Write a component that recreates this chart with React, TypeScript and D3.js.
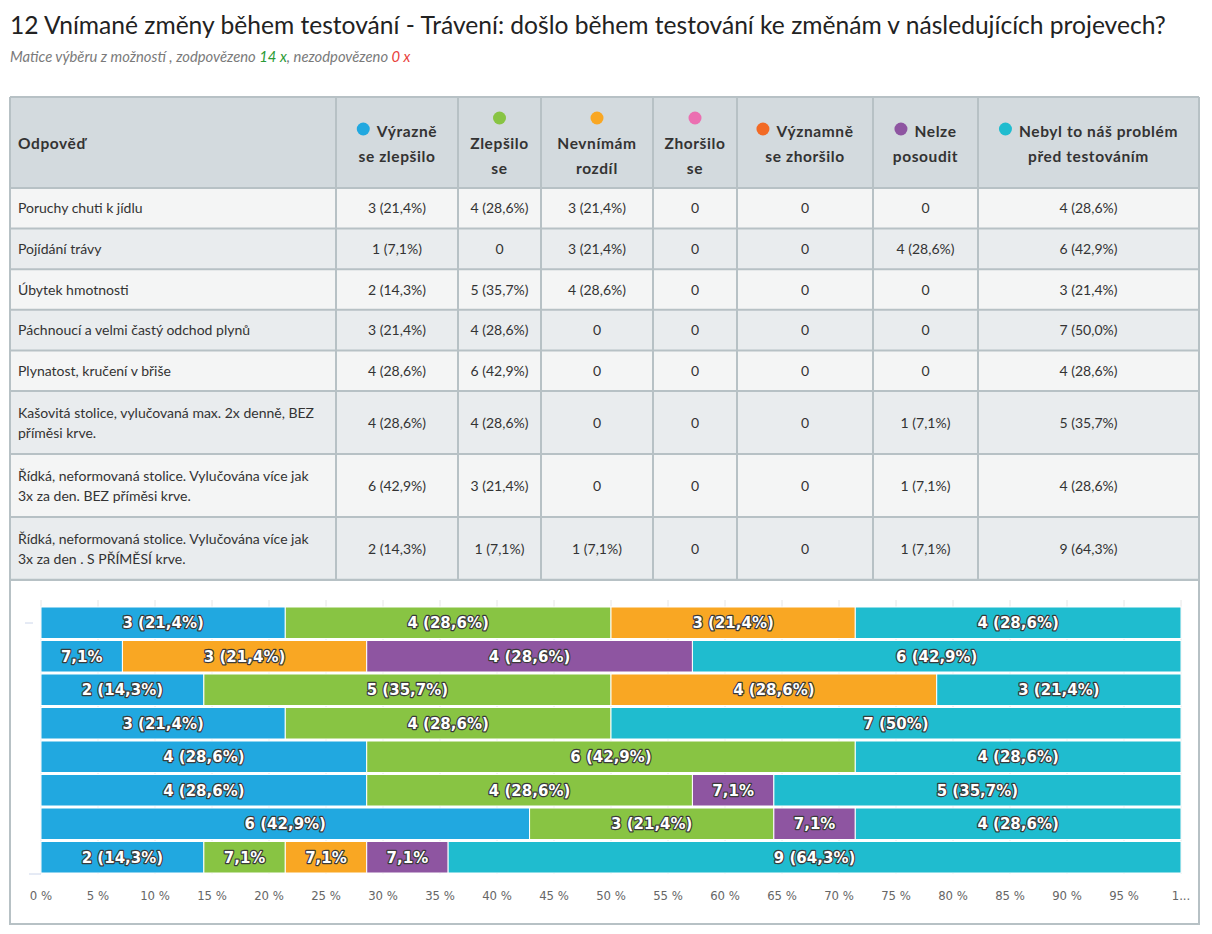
import React from "react";
import * as d3 from "d3";

const TOTAL = 14;

const rowLabels: string[][] = [
  ["Poruchy chuti k jídlu"],
  ["Pojídání trávy"],
  ["Úbytek hmotnosti"],
  ["Páchnoucí a velmi častý odchod plynů"],
  ["Plynatost, kručení v břiše"],
  ["Kašovitá stolice, vylučovaná max. 2x denně, BEZ", "příměsi krve."],
  ["Řídká, neformovaná stolice. Vylučována více jak", "3x za den. BEZ příměsi krve."],
  ["Řídká, neformovaná stolice. Vylučována více jak", "3x za den . S PŘÍMĚSÍ krve."],
];

const seriesNames: string[][] = [
  ["Výrazně", "se zlepšilo"],
  ["Zlepšilo", "se"],
  ["Nevnímám", "rozdíl"],
  ["Zhoršilo", "se"],
  ["Významně", "se zhoršilo"],
  ["Nelze", "posoudit"],
  ["Nebyl to náš problém", "před testováním"],
];

const dotStyle: string[] = ["inline", "above", "above", "above", "inline", "inline", "inline"];

const seriesColors = ["#21a8e0", "#88c443", "#f9a723", "#eb6fb1", "#f26a25", "#8e55a1", "#1fbccf"];

const vyrazneZlepsilo = [3, 1, 2, 3, 4, 4, 6, 2];
const zlepsilo = [4, 0, 5, 4, 6, 4, 3, 1];
const nevnimam = [3, 3, 4, 0, 0, 0, 0, 1];
const zhorsilo = [0, 0, 0, 0, 0, 0, 0, 0];
const vyznamneZhorsilo = [0, 0, 0, 0, 0, 0, 0, 0];
const nelzePosoudit = [0, 4, 0, 0, 0, 1, 1, 1];
const nebylProblem = [4, 6, 3, 7, 4, 5, 4, 9];

const seriesValues = [vyrazneZlepsilo, zlepsilo, nevnimam, zhorsilo, vyznamneZhorsilo, nelzePosoudit, nebylProblem];

const xTicks = [0, 5, 10, 15, 20, 25, 30, 35, 40, 45, 50, 55, 60, 65, 70, 75, 80, 85, 90, 95, 100];

const colEdges = [10, 336, 458, 541, 653, 737, 873, 978, 1199];
const headerTop = 97;
const headerBottom = 188;

const FONT = "Lato, 'Open Sans', sans-serif";
const BAR_FONT = "'DejaVu Sans', sans-serif";
const AXIS_FONT = "'DejaVu Sans Condensed', 'DejaVu Sans', sans-serif";
const HEAD_SIZE = 15.5;
const HEAD_LS = 0.6;

function pctTable(n: number) {
  return (Math.round((n / TOTAL) * 1000) / 10).toFixed(1).replace(".", ",") + "%";
}
function pctBar(n: number) {
  const v = Math.round((n / TOTAL) * 1000) / 10;
  const s = v % 1 === 0 ? v.toFixed(0) : v.toFixed(1).replace(".", ",");
  return s + "%";
}

let measureCtx: CanvasRenderingContext2D | null = null;
function measure(text: string): number {
  if (!measureCtx) {
    const c = document.createElement("canvas");
    measureCtx = c.getContext("2d");
  }
  if (!measureCtx) return text.length * 8;
  measureCtx.font = `700 ${HEAD_SIZE}px Lato, 'Open Sans', sans-serif`;
  return measureCtx.measureText(text).width + text.length * HEAD_LS;
}

export default function App() {
  const rowHeights = rowLabels.map((l) => (l.length > 1 ? 63 : 40.6));
  const rowTops: number[] = [];
  let acc = headerBottom;
  rowHeights.forEach((h) => {
    rowTops.push(acc);
    acc += h;
  });
  const tableBottom = acc;

  const x = d3.scaleLinear().domain([0, 100]).range([41, 1181]);
  const y = d3
    .scaleBand<number>()
    .domain(d3.range(rowLabels.length))
    .range([606, 874])
    .paddingInner(0);

  const border = "#b7c1c5";

  const segments: { row: number; s: number; x0: number; x1: number; n: number }[] = [];
  rowLabels.forEach((_, r) => {
    let cum = 0;
    seriesValues.forEach((vals, s) => {
      const n = vals[r];
      if (n > 0) {
        const p0 = (cum / TOTAL) * 100;
        const p1 = ((cum + n) / TOTAL) * 100;
        segments.push({ row: r, s, x0: x(p0), x1: x(p1), n });
      }
      cum += n;
    });
  });

  const headText = {
    fontSize: HEAD_SIZE,
    fontWeight: 700,
    fill: "#333",
    letterSpacing: HEAD_LS,
  } as const;

  return (
    <svg
      width={1212}
      height={934}
      style={{ position: "absolute", left: 0, top: 0, background: "#fff" }}
      fontFamily={FONT}
    >
      <text x={10} y={34} fontSize={24.6} fill="#222" fontFamily={FONT}>
        12 Vnímané změny během testování - Trávení: došlo během testování ke změnám v následujících projevech?
      </text>
      <text x={10} y={62} fontSize={14.8} fill="#7a7a7a" fontStyle="italic" fontFamily={FONT}>
        Matice výběru z možností , zodpovězeno <tspan fill="#2a9a36">14 x</tspan>, nezodpovězeno{" "}
        <tspan fill="#e8403a">0 x</tspan>
      </text>

      <rect x={10} y={headerTop} width={1189} height={headerBottom - headerTop} fill="#d3dade" />
      {rowTops.map((t, i) => (
        <rect key={"rb" + i} x={10} y={t} width={1189} height={rowHeights[i]} fill={i % 2 === 0 ? "#f4f5f5" : "#e9ecee"} />
      ))}

      <text x={18} y={149} {...headText}>
        Odpověď
      </text>
      {seriesNames.map((lines, s) => {
        const cx = (colEdges[s + 1] + colEdges[s + 2]) / 2;
        if (dotStyle[s] === "above") {
          return (
            <g key={"h" + s}>
              <circle cx={cx} cy={118} r={6.5} fill={seriesColors[s]} />
              <text x={cx} y={149} textAnchor="middle" {...headText}>
                {lines[0]}
              </text>
              <text x={cx} y={174} textAnchor="middle" {...headText}>
                {lines[1]}
              </text>
            </g>
          );
        }
        const tw = measure(lines[0]);
        const total = 13 + 7 + tw;
        const left = cx - total / 2;
        return (
          <g key={"h" + s}>
            <circle cx={left + 6.5} cy={129} r={6.5} fill={seriesColors[s]} />
            <text x={left + 20} y={137} {...headText}>
              {lines[0]}
            </text>
            <text x={cx} y={162} textAnchor="middle" {...headText}>
              {lines[1]}
            </text>
          </g>
        );
      })}

      {rowLabels.map((lines, r) => {
        const t = rowTops[r];
        const h = rowHeights[r];
        const cy = t + h / 2;
        return (
          <g key={"r" + r}>
            {lines.map((ln, li) => (
              <text
                key={li}
                x={18}
                y={cy + 5 + (li - (lines.length - 1) / 2) * 20}
                fontSize={14}
                fill="#333"
              >
                {ln}
              </text>
            ))}
            {seriesValues.map((vals, s) => {
              const cx = (colEdges[s + 1] + colEdges[s + 2]) / 2;
              const n = vals[r];
              return (
                <text key={s} x={cx} y={cy + 5} textAnchor="middle" fontSize={14} fill="#333">
                  {n === 0 ? "0" : `${n} (${pctTable(n)})`}
                </text>
              );
            })}
          </g>
        );
      })}

      {[headerTop, headerBottom, ...rowTops.slice(1)].map((yy, i) => (
        <line key={"hl" + i} x1={10} x2={1199} y1={yy} y2={yy} stroke={border} strokeWidth={2} />
      ))}
      <line x1={10} x2={1199} y1={tableBottom} y2={tableBottom} stroke={border} strokeWidth={2.5} />
      {colEdges.map((cx, i) => (
        <line key={"vl" + i} x1={cx} x2={cx} y1={headerTop} y2={tableBottom} stroke={border} strokeWidth={2} />
      ))}

      <rect x={10} y={tableBottom} width={1189} height={924 - tableBottom} fill="#fff" stroke={border} strokeWidth={2} />

      {xTicks.map((t) => (
        <line key={"g" + t} x1={x(t)} x2={x(t)} y1={600} y2={874} stroke="#e6e6e6" strokeWidth={1} />
      ))}

      {segments.map((sg, i) => (
        <rect
          key={"b" + i}
          x={sg.x0}
          y={(y(sg.row) as number) + 1}
          width={sg.x1 - sg.x0}
          height={y.bandwidth() - 2}
          fill={seriesColors[sg.s]}
          stroke="#fff"
          strokeWidth={1}
        />
      ))}
      {segments.map((sg, i) => (
        <text
          key={"bl" + i}
          x={(sg.x0 + sg.x1) / 2}
          y={(y(sg.row) as number) + y.bandwidth() / 2 + 5.5}
          textAnchor="middle"
          fontSize={15}
          fontWeight={700}
          fontFamily={BAR_FONT}
          fill="#fff"
          stroke="#3a3a3a"
          strokeWidth={2.4}
          strokeLinejoin="round"
          style={{ paintOrder: "stroke" }}
        >
          {sg.n === 1 ? pctBar(sg.n) : `${sg.n} (${pctBar(sg.n)})`}
        </text>
      ))}

      <line x1={29} x2={x(0)} y1={874} y2={874} stroke="#ccd6eb" strokeWidth={1} />
      <line x1={25} x2={33} y1={623} y2={623} stroke="#ccd6eb" strokeWidth={1} />
      {xTicks.map((t) => (
        <text
          key={"xt" + t}
          x={x(t)}
          y={900}
          textAnchor="middle"
          fontSize={13}
          fontFamily={AXIS_FONT}
          fill="#666"
        >
          {t === 100 ? "1..." : `${t} %`}
        </text>
      ))}
    </svg>
  );
}
